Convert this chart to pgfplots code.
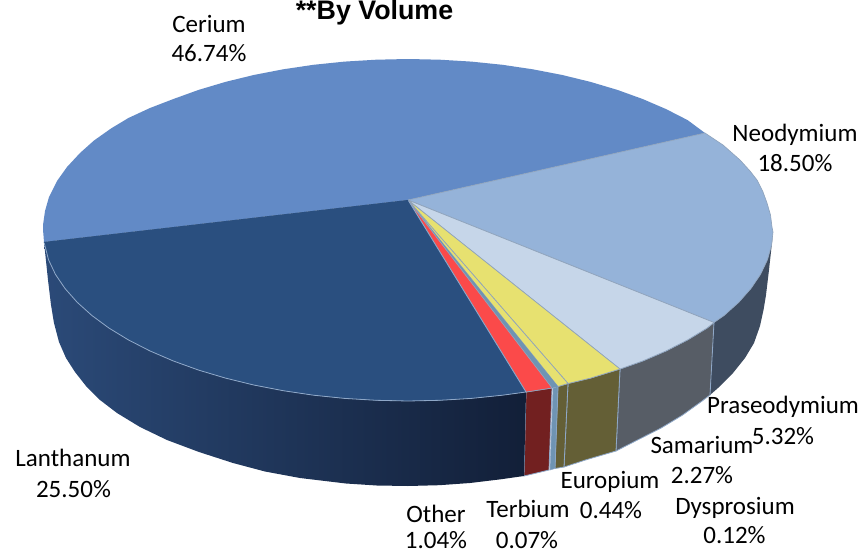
\documentclass[border=0pt]{standalone}
\usepackage{fontspec}
\setmainfont{Carlito}
\newfontfamily\titlefont{Liberation Sans}
\usepackage{pgfplots}
\pgfplotsset{compat=1.18}
\definecolor{cerium}{HTML}{628AC6}
\definecolor{neod}{HTML}{95B3D9}
\definecolor{pras}{HTML}{C6D6E9}
\definecolor{sama}{HTML}{E7E170}
\definecolor{dysp}{HTML}{6F94B3}
\definecolor{redd}{HTML}{FB4A4A}
\definecolor{lant}{HTML}{2A4F7F}
\definecolor{edge}{HTML}{8FA3BC}
\definecolor{sedge}{HTML}{8FA8C8}
\definecolor{sneo}{HTML}{3E4C60}
\definecolor{spra}{HTML}{575D66}
\definecolor{ssam}{HTML}{645F36}
\definecolor{sdys}{HTML}{6F94B3}
\definecolor{sred}{HTML}{722020}
\definecolor{slanA}{HTML}{2B4A78}
\definecolor{slanB}{HTML}{20395F}
\definecolor{slanC}{HTML}{121F38}
\begin{document}
\begin{tikzpicture}
\path[use as bounding box] (0,0) rectangle (645.75pt,414.75pt);
\begin{axis}[
  at={(0,0)}, anchor=south west,
  scale only axis, width=645.75pt, height=414.75pt,
  xmin=0, xmax=861, ymin=0, ymax=553, y dir=reverse,
  hide axis, clip=false,
  nodes={font=\fontsize{18.75pt}{20pt}\selectfont, inner sep=0pt, text=black},
]
% side walls
\addplot[fill=sneo, draw=none] coordinates {
 (772.5,238)(771.6,244.9)(767.5,259.7)(760.6,274.3)(751,288.5)(738.8,302.3)(724.1,315.5)(714,322.5)
 (710,395)(718,388)(733,373)(745,358)(754,343)(760,326)(763.5,310)(766,295)(769,270)(772.5,238)};
\addplot[fill=spra, draw=sedge, line width=0.6pt] coordinates {
 (714,322.5)(707,328.1)(687.6,339.9)(666.1,350.9)(642.6,361)(620,369)
 (616,451)(638.1,439.7)(661.1,428)(682.2,415.3)(701.3,401.6)(710,395)(714,322.5)};
\addplot[fill=ssam, draw=sedge, line width=0.6pt] coordinates {
 (620,369)(590.5,378.1)(568,383.5)(564,467)(587,459.5)(616,451)(620,369)};
\addplot[fill=ssam, draw=sedge, line width=0.6pt] coordinates {
 (568,383.5)(558,386.5)(555,468.5)(564,467)(568,383.5)};
\addplot[fill=sdys, draw=sedge, line width=0.4pt] coordinates {
 (558,386.5)(553,388)(550,470)(555,468.5)(558,386.5)};
\addplot[fill=sred, draw=sedge, line width=0.6pt] coordinates {
 (552,388)(526,392)(524,476)(549,470)(552,388)};
\addplot[left color=slanA, middle color=slanB, right color=slanC, draw=none] coordinates {
 (526,392)(502.5,395.2)(471.4,398.4)(439.8,400.3)(408,401)(376.2,400.3)(344.6,398.4)(313.5,395.2)
 (283.2,390.7)(253.7,385)(225.5,378.1)(198.6,370.1)(173.4,361)(149.9,350.9)(128.4,339.9)(109,328.1)
 (91.9,315.5)(77.2,302.3)(65,288.5)(55.4,274.3)(48.5,259.7)(44,242)
 (48,280)(51,305)(54,323)(59,342)(66,358)(75,372)(86,386)(100,400)(117,413)(140,427)(167,440)(199,452)(233,463)
 (265,471.5)(300,478)(345.9,483.5)(376.8,485.5)(408,486)(439.2,485.2)(470.1,483)(500.7,479.3)(524,476)(526,392)};
% top faces
\addplot[fill=cerium, draw=none] coordinates {
 (408,200)(705,133)(687.6,120.1)(666.1,109.1)(642.6,99)(617.4,89.9)(590.5,81.9)(562.3,75)(532.8,69.3)
 (502.5,64.8)(471.4,61.6)(439.8,59.7)(408,59)(376.2,59.7)(344.6,61.6)(313.5,64.8)(283.2,69.3)(253.7,75)
 (225.5,81.9)(198.6,89.9)(173.4,99)(150,108)(128.4,118)(111,128.5)(94,140.5)(80,153)(67,167)
 (57,181)(49,197)(45,211)(43,225)(43.2,232)(44,242)(408,200)};
\addplot[fill=neod, draw=edge, line width=0.5pt] coordinates {
 (408,200)(705,133)(723,145)(740,160)(750,171)(757,180)(763,192)(767,203)(770.5,215)(772,227)(773,232)
 (771.6,244.9)(767.5,259.7)(760.6,274.3)(751,288.5)(738.8,302.3)(724.1,315.5)(714,322.5)(408,200)};
\addplot[fill=pras, draw=edge, line width=0.5pt] coordinates {
 (408,200)(714,322.5)(707,328.1)(687.6,339.9)(666.1,350.9)(642.6,361)(620,369)(408,200)};
\addplot[fill=sama, draw=edge, line width=0.5pt] coordinates {
 (408,200)(620,369)(590.5,378.1)(568,383.5)(408,200)};
\addplot[fill=sama, draw=edge, line width=0.5pt] coordinates {
 (408,200)(568,383.5)(558,386.5)(408,200)};
\addplot[fill=dysp, draw=none] coordinates {
 (408,200)(558,386.5)(552,388)(408,200)};
\addplot[fill=redd, draw=edge, line width=0.5pt] coordinates {
 (408,200)(552,388)(526,392)(408,200)};
\addplot[fill=lant, draw=sedge, line width=0.6pt] coordinates {
 (408,200)(526,392)(502.5,395.2)(471.4,398.4)(439.8,400.3)(408,401)(376.2,400.3)(344.6,398.4)(313.5,395.2)
 (283.2,390.7)(253.7,385)(225.5,378.1)(198.6,370.1)(173.4,361)(149.9,350.9)(128.4,339.9)(109,328.1)
 (91.9,315.5)(77.2,302.3)(65,288.5)(55.4,274.3)(48.5,259.7)(44,242)};
\addplot[fill=lant, draw=none] coordinates {(408,200)(44,242)(45,243)(408,201)};
% labels
\node[anchor=base] at (axis cs:209,32) {Cerium};
\node[anchor=base] at (axis cs:209,61) {46.74\%};
\node[anchor=base] at (axis cs:795,141) {Neodymium};
\node[anchor=base] at (axis cs:795,171) {18.50\%};
\node[anchor=base] at (axis cs:783,413) {Praseodymium};
\node[anchor=base] at (axis cs:783,444) {5.32\%};
\node[anchor=base] at (axis cs:702,453) {Samarium};
\node[anchor=base] at (axis cs:702,483) {2.27\%};
\node[anchor=base] at (axis cs:610,488) {Europium};
\node[anchor=base] at (axis cs:611,518) {0.44\%};
\node[anchor=base] at (axis cs:735,514) {Dysprosium};
\node[anchor=base] at (axis cs:734.5,543) {0.12\%};
\node[anchor=base] at (axis cs:528,517) {Terbium};
\node[anchor=base] at (axis cs:527,548) {0.07\%};
\node[anchor=base] at (axis cs:436,522) {Other};
\node[anchor=base] at (axis cs:436,548.5) {1.04\%};
\node[anchor=base] at (axis cs:73,466) {Lanthanum};
\node[anchor=base] at (axis cs:73.5,497) {25.50\%};
\node[anchor=base, font=\titlefont\bfseries\fontsize{20.1pt}{22pt}\selectfont] at (axis cs:374.5,20) {**By Volume};
\end{axis}
\end{tikzpicture}
\end{document}
